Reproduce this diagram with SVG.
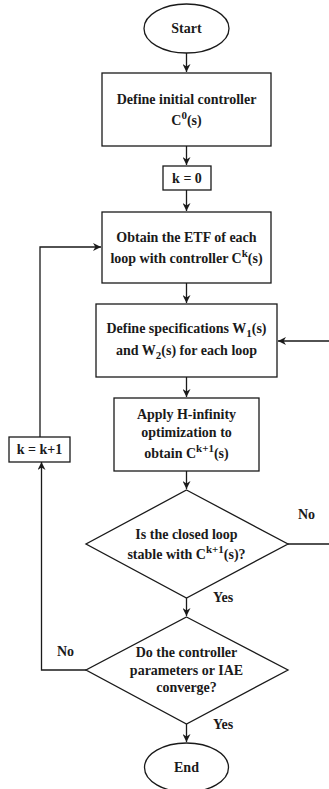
<svg xmlns="http://www.w3.org/2000/svg" width="329" height="789" viewBox="0 0 329 789">
<style>
.s{fill:#fff;stroke:#1a1a1a;stroke-width:1.3}
.c{fill:none;stroke:#1a1a1a;stroke-width:1.3}
text{font-family:"Liberation Serif","Times New Roman",serif;font-weight:bold;font-size:14px;fill:#1a1a1a;text-anchor:middle}
.sm{font-size:11px}
.l{text-anchor:start}
</style>
<defs>
<marker id="a" viewBox="0 0 10 10" refX="10" refY="5" markerWidth="8" markerHeight="8" orient="auto" markerUnits="userSpaceOnUse">
<path d="M0,0 L10,5 L0,10 L3,5 z" fill="#1a1a1a"/>
</marker>
</defs>
<rect width="329" height="789" fill="#fff"/>
<g id="connectors">
<path class="c" d="M186.5 53 V72" marker-end="url(#a)"/>
<path class="c" d="M186.5 146 V165" marker-end="url(#a)"/>
<path class="c" d="M186.5 190 V211" marker-end="url(#a)"/>
<path class="c" d="M186.5 283 V303" marker-end="url(#a)"/>
<path class="c" d="M186.5 377 V397" marker-end="url(#a)"/>
<path class="c" d="M186.5 471 V489" marker-end="url(#a)"/>
<path class="c" d="M186.5 598 V616" marker-end="url(#a)"/>
<path class="c" d="M186.5 724 V742" marker-end="url(#a)"/>
<path class="c" d="M288 544 H340 V341 H278" marker-end="url(#a)"/>
<path class="c" d="M86 670 H41.5 V462" marker-end="url(#a)"/>
<path class="c" d="M40 437 V247 H101" marker-end="url(#a)"/>
<text class="l" x="298" y="519">No</text>
<text class="l" x="213" y="602">Yes</text>
<text class="l" x="57" y="656">No</text>
<text class="l" x="213" y="729">Yes</text>
</g>
<g id="start">
<ellipse class="s" cx="186.5" cy="28.5" rx="42.5" ry="24.5"/>
<text x="186.5" y="33">Start</text>
</g>
<g id="define-initial">
<rect class="s" x="102" y="73" width="169" height="73"/>
<text x="186.5" y="104">Define initial controller</text>
<text x="186.5" y="125">C<tspan class="sm" dy="-6">0</tspan><tspan dy="6">(s)</tspan></text>
</g>
<g id="k0">
<rect class="s" x="163" y="166" width="48" height="24"/>
<text x="187" y="183">k = 0</text>
</g>
<g id="obtain-etf">
<rect class="s" x="102" y="212" width="169" height="71"/>
<text x="186.5" y="242">Obtain the ETF of each</text>
<text x="186.5" y="263">loop with controller C<tspan class="sm" dy="-6">k</tspan><tspan dy="6">(s)</tspan></text>
</g>
<g id="define-specs">
<rect class="s" x="96" y="304" width="181" height="73"/>
<text x="186.5" y="333">Define specifications W<tspan class="sm" dy="4">1</tspan><tspan dy="-4">(s)</tspan></text>
<text x="186.5" y="355">and W<tspan class="sm" dy="4">2</tspan><tspan dy="-4">(s) for each loop</tspan></text>
</g>
<g id="apply-hinf">
<rect class="s" x="114" y="398" width="145" height="73"/>
<text x="186.5" y="419">Apply H-infinity</text>
<text x="186.5" y="437">optimization to</text>
<text x="186.5" y="458">obtain C<tspan class="sm" dy="-6">k+1</tspan><tspan dy="6">(s)</tspan></text>
</g>
<g id="kk1">
<rect class="s" x="9" y="437" width="61" height="25"/>
<text x="39.5" y="454">k = k+1</text>
</g>
<g id="stable">
<path class="s" d="M186.5 490 L288 544 L186.5 598 L86 544 Z"/>
<text x="186.5" y="539">Is the closed loop</text>
<text x="186.5" y="559">stable with C<tspan class="sm" dy="-6">k+1</tspan><tspan dy="6">(s)?</tspan></text>
</g>
<g id="converge">
<path class="s" d="M186.5 617 L288 670 L186.5 724 L86 670 Z"/>
<text x="186.5" y="657">Do the controller</text>
<text x="186.5" y="675">parameters or IAE</text>
<text x="186.5" y="692">converge?</text>
</g>
<g id="end">
<ellipse class="s" cx="186.5" cy="767.5" rx="42" ry="24.5"/>
<text x="186.5" y="772">End</text>
</g>
</svg>
